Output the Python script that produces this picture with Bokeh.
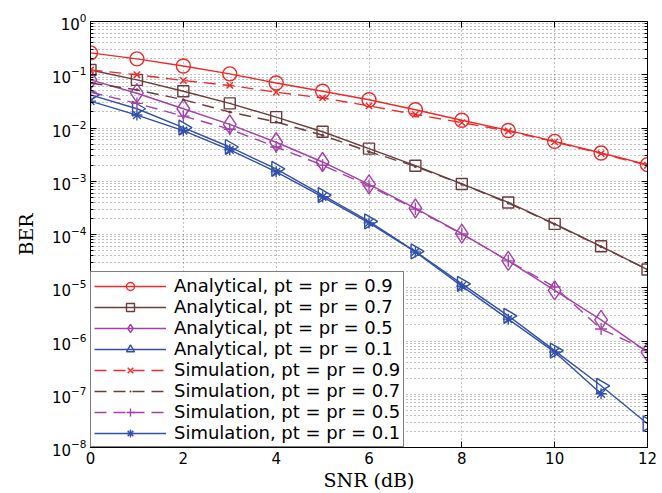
import numpy as np
from bokeh.plotting import figure
from bokeh.models import (LinearAxis, LogAxis, FixedTicker, Range1d)
from bokeh.embed import file_html
from bokeh.resources import INLINE

# ---------------- data ----------------
snr = [0, 1, 2, 3, 4, 5, 6, 7, 8, 9, 10, 11, 12]

ana_09 = [0.258, 0.199, 0.146, 0.104, 0.070, 0.049, 0.034, 0.022, 0.014, 0.0090, 0.0056, 0.0034, 0.00205]
ana_07 = [0.123, 0.080, 0.049, 0.029, 0.016, 0.0085, 0.0041, 0.00196, 0.00089, 0.00040, 0.000158, 6.0e-5, 2.2e-5]
ana_05 = [0.080, 0.045, 0.023, 0.0117, 0.0054, 0.0023, 0.00087, 0.00031, 0.000104, 3.2e-5, 8.9e-6, 2.5e-6, 6.2e-7]
ana_01 = [0.042, 0.023, 0.0102, 0.0044, 0.0017, 0.00055, 0.000176, 4.8e-5, 1.18e-5, 2.97e-6, 6.6e-7, 1.44e-7, 2.8e-8]

sim_09 = [0.123, 0.100, 0.078, 0.063, 0.047, 0.0367, 0.026, 0.018, 0.0126, 0.0088, 0.0055, 0.0033, 0.0020]
sim_07 = [0.070, 0.052, 0.034, 0.020, 0.013, 0.0073, 0.0036, 0.0019, 0.00088, 0.00039, 0.000155, 5.9e-5, 2.2e-5]
sim_05 = [0.047, 0.029, 0.0167, 0.0095, 0.0044, 0.0020, 0.00082, 0.00030, 0.000102, 3.2e-5, 1.03e-5, 1.68e-6, 6.6e-7]
sim_01 = [0.032, 0.0175, 0.0089, 0.0039, 0.0015, 0.00051, 0.000165, 4.7e-5, 1.07e-5, 2.57e-6, 6.2e-7, 1.02e-7]

labels_ana = ["Analytical, pt = pr = 0.9", "Analytical, pt = pr = 0.7",
              "Analytical, pt = pr = 0.5", "Analytical, pt = pr = 0.1"]
labels_sim = ["Simulation, pt = pr = 0.9", "Simulation, pt = pr = 0.7",
              "Simulation, pt = pr = 0.5", "Simulation, pt = pr = 0.1"]

x_ticks = [0, 2, 4, 6, 8, 10, 12]
y_ticks = [1e-8, 1e-7, 1e-6, 1e-5, 1e-4, 1e-3, 1e-2, 1e-1, 1e0]
y_minor = [m * t for t in y_ticks[:-1] for m in range(2, 10)]

# ---------------- styles ----------------
RED = "#f02828"
BROWN = "#6e3c3c"
PURPLE = "#a541aa"
BLUE = "#3250aa"
SANS = "DejaVu Sans"
SERIF = "DejaVu Serif"

p = figure(width=662, height=493, output_backend="svg", toolbar_location=None,
           y_axis_type="log", x_range=Range1d(0, 12), y_range=Range1d(1e-8, 1),
           min_border_left=90, min_border_right=15, min_border_top=21,
           min_border_bottom=42)

p.outline_line_color = "black"
p.outline_line_width = 1

# axes
p.xaxis.ticker = FixedTicker(ticks=x_ticks)
p.yaxis.ticker = FixedTicker(ticks=y_ticks, minor_ticks=y_minor)
for ax in p.xaxis + p.yaxis:
    ax.axis_line_color = "black"
    ax.major_tick_in = 6
    ax.major_tick_out = 0
    ax.minor_tick_in = 3
    ax.minor_tick_out = 0
    ax.major_label_text_font = SANS
    ax.major_label_text_font_size = "15px"
    ax.major_label_text_color = "black"
    ax.axis_label_text_font = SERIF
    ax.axis_label_text_font_size = "19px"
    ax.axis_label_text_font_style = "normal"
    ax.axis_label_text_color = "black"
p.xaxis.major_label_standoff = 4
p.xaxis.axis_label_standoff = 2
p.yaxis.major_label_standoff = 4
p.yaxis.axis_label_standoff = 12
p.xaxis.axis_label = "SNR (dB)"
p.yaxis.axis_label = "BER"

# box ticks on top / right (labels invisible)
top_ax = LinearAxis(ticker=FixedTicker(ticks=x_ticks), major_tick_in=6, major_tick_out=0,
                    minor_tick_in=0, minor_tick_out=0,
                    major_label_text_font_size="1px", major_label_text_alpha=0.0,
                    major_label_standoff=0, axis_line_color="black")
right_ax = LogAxis(ticker=FixedTicker(ticks=y_ticks, minor_ticks=y_minor),
                   major_tick_in=6, major_tick_out=0, minor_tick_in=3, minor_tick_out=0,
                   major_label_text_font_size="1px", major_label_text_alpha=0.0,
                   major_label_standoff=0, axis_line_color="black")
p.add_layout(top_ax, "above")
p.add_layout(right_ax, "right")

# grid
p.xgrid.ticker = FixedTicker(ticks=x_ticks)
p.ygrid.ticker = FixedTicker(ticks=y_ticks, minor_ticks=y_minor)
for g in p.xgrid + p.ygrid:
    g.grid_line_color = "#333333"
    g.grid_line_alpha = 0.6
    g.grid_line_dash = "1 3"
    g.grid_line_width = 1
p.ygrid.minor_grid_line_color = "#333333"
p.ygrid.minor_grid_line_alpha = 0.6
p.ygrid.minor_grid_line_dash = "1 3"

LW = 1.4

# analytical curves
ana_series = [ana_09, ana_07, ana_05, ana_01]
colors = [RED, BROWN, PURPLE, BLUE]
ana_markers = [("circle", 14, 0.0), ("square", 11, 0.0), ("diamond", 19, 0.0), ("triangle", 15, -np.pi / 2)]
for ys, c, (mk, sz, ang), lab in zip(ana_series, colors, ana_markers, labels_ana):
    xs = snr[:len(ys)]
    p.line(xs, ys, line_color=c, line_width=LW, legend_label=lab)
    p.scatter(xs, ys, marker=mk, size=sz, angle=ang, line_color=c, fill_color=None,
              line_width=LW, legend_label=lab)

# simulation curves
sim_series = [sim_09, sim_07, sim_05, sim_01]
sim_markers = [("x", 9), ("dot", 12), ("cross", 12), ("asterisk", 11)]
sim_dash = ["12 7", "12 7", "12 7", "solid"]
for ys, c, (mk, sz), dsh, lab in zip(sim_series, colors, sim_markers, sim_dash, labels_sim):
    xs = snr[:len(ys)]
    p.line(xs, ys, line_color=c, line_width=LW, line_dash=dsh, legend_label=lab)
    p.scatter(xs, ys, marker=mk, size=sz, line_color=c, fill_color=c,
              line_width=LW, legend_label=lab)

# legend
lg = p.legend[0]
lg.location = "bottom_left"
lg.margin = 0
lg.padding = 3
lg.spacing = 0
lg.glyph_width = 72
lg.glyph_height = 20
lg.label_height = 20
lg.label_standoff = 8
lg.label_text_font = SANS
lg.label_text_font_size = "18px"
lg.label_text_color = "black"
lg.border_line_color = "black"
lg.border_line_width = 1
lg.background_fill_alpha = 1.0

open("out.html", "w").write(file_html(p, INLINE))
